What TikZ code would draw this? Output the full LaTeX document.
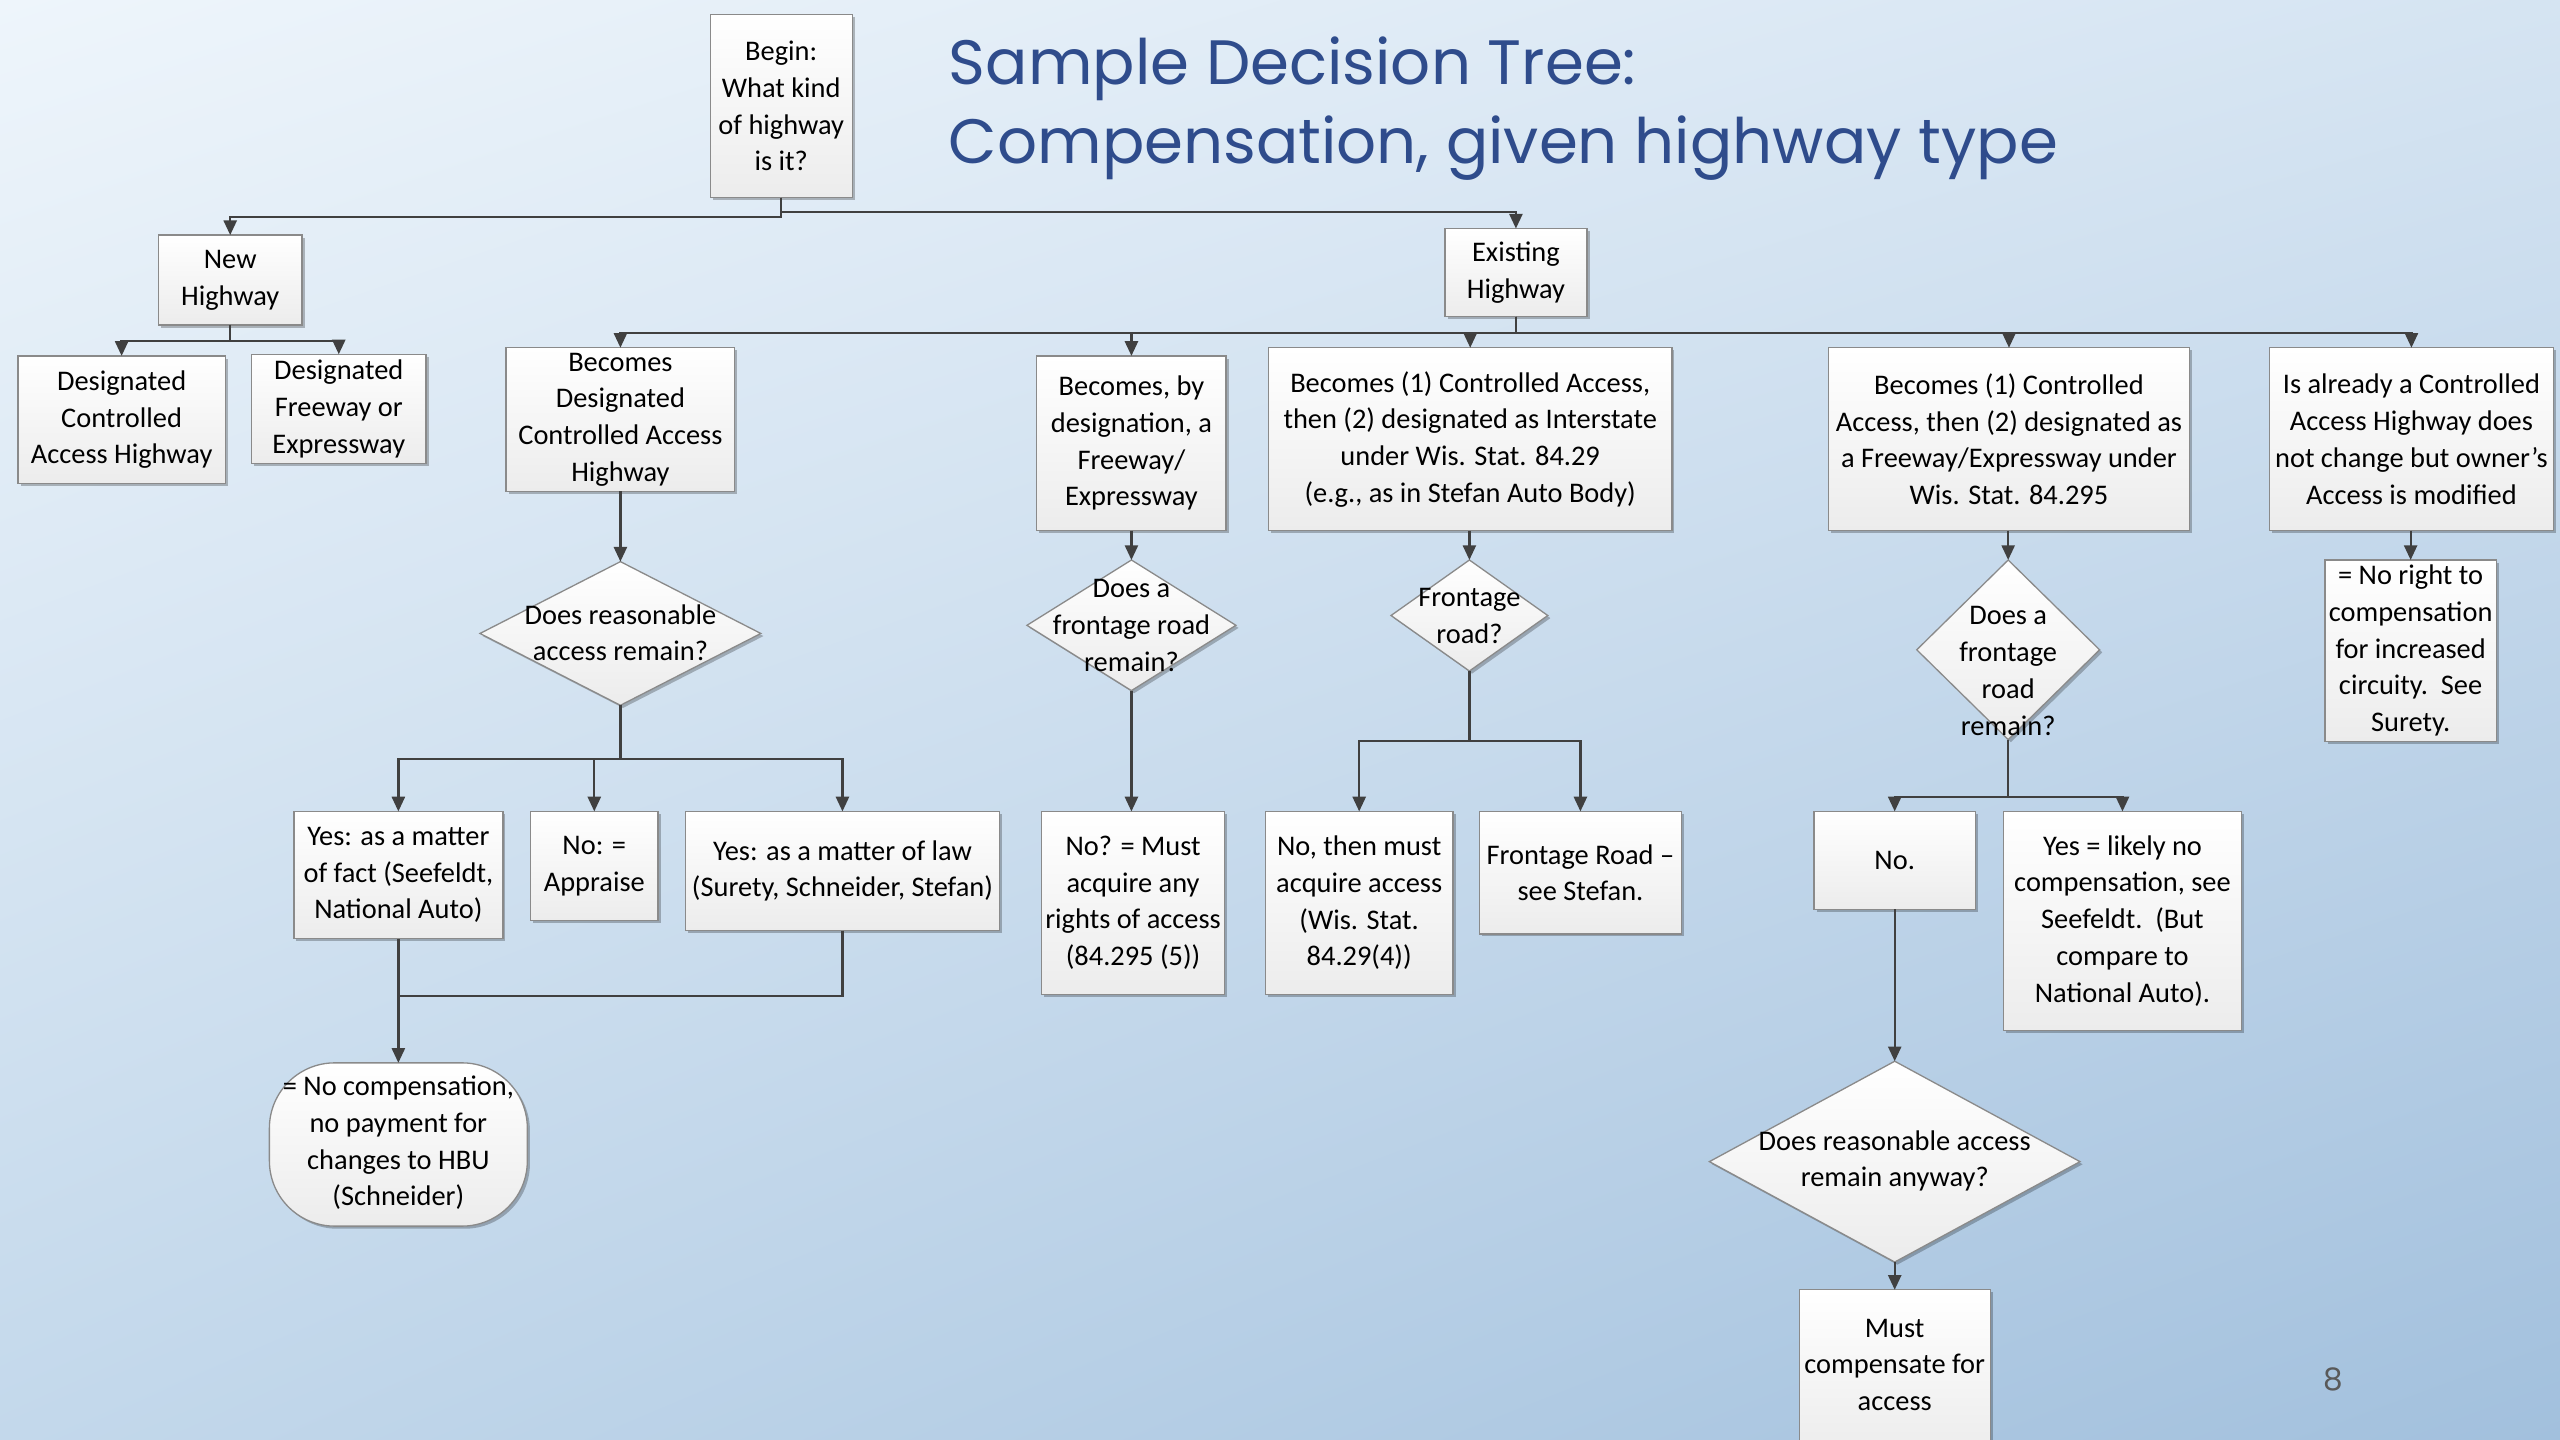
\documentclass[tikz,border=0pt]{standalone}
\usepackage{fontspec}
\setmainfont{Carlito}
\newfontfamily\titlefont{Poppins}
\usetikzlibrary{shapes.geometric,arrows.meta,shadows,shadings,calc}
\definecolor{bgA}{HTML}{EEF5FB}
\definecolor{bgB}{HTML}{D5E4F2}
\definecolor{bgC}{HTML}{C3D8EB}
\definecolor{bgD}{HTML}{A2C0DD}
\definecolor{boxline}{HTML}{8A8A8A}
\definecolor{boxbot}{HTML}{ECECEC}
\definecolor{conn}{HTML}{404040}
\definecolor{titleblue}{HTML}{2F4C8C}
\tikzset{
  bodyfont/.style={font=\fontsize{17.4}{22.5}\selectfont},
  box/.style={draw=boxline, line width=0.8pt, top color=white, bottom color=boxbot,
    drop shadow={shadow xshift=1.6pt, shadow yshift=-1.6pt, opacity=0.25, fill=black},
    inner sep=0pt, outer sep=0pt, align=center, bodyfont, text=black},
  dia/.style={box, diamond},
  txt/.style={inner sep=0pt, outer sep=0pt, align=center, bodyfont, text=black},
  line/.style={draw=conn, line width=1.4pt},
  arr/.style={line, -{Triangle[length=9pt,width=8pt]}},
}
\begin{document}
\begin{tikzpicture}[x=1pt,y=-1pt]
\useasboundingbox (0,0) rectangle (1568,882);
\shade[upper left=bgA, upper right=bgB, lower left=bgC, lower right=bgD] (0,0) rectangle (1568,882);

% title
\node[anchor=base west, inner sep=0pt, text=titleblue, font=\titlefont\fontsize{38.4}{46}\selectfont] (t1) at (581,52) {Sample Decision Tree:};
\node[anchor=base west, inner sep=0pt, text=titleblue, font=\titlefont\fontsize{38.4}{46}\selectfont] (t2) at (581,100) {Compensation, given highway type};
\node[inner sep=0pt, text=gray!70!black, font=\titlefont\fontsize{19}{22}\selectfont] (pg) at (1429,845) {8};

% level 0-1
\node[box, minimum width=87, minimum height=112] (begin) at (478.5,65) {Begin:\\What kind\\of highway\\is it?};
\node[box, minimum width=88, minimum height=55] (new) at (141,171.5) {New\\Highway};
\node[box, minimum width=87, minimum height=54] (exist) at (928.5,167) {Existing\\Highway};

% new highway children
\node[box, minimum width=127, minimum height=78] (dca) at (74.5,257) {Designated\\Controlled\\Access Highway};
\node[box, minimum width=107, minimum height=67] (dfe) at (207.5,250.5) {Designated\\Freeway or\\Expressway};

% existing highway children
\node[box, minimum width=140, minimum height=88] (bdca) at (380,257) {Becomes\\Designated\\Controlled Access\\Highway};
\node[box, minimum width=116, minimum height=107] (bfe) at (693,271.5) {Becomes, by\\designation, a\\Freeway/\\Expressway};
\node[box, minimum width=247, minimum height=112] (bint) at (900.5,269) {Becomes (1) Controlled Access,\\then (2) designated as Interstate\\under Wis. Stat. 84.29\\(e.g., as in Stefan Auto Body)};
\node[box, minimum width=221, minimum height=112] (bfree) at (1230.5,269) {Becomes (1) Controlled\\Access, then (2) designated as\\a Freeway/Expressway under\\Wis. Stat. 84.295};
\node[box, minimum width=174, minimum height=112] (ialr) at (1477,269) {Is already a Controlled\\Access Highway does\\not change but owner’s\\Access is modified};

% decisions
\node[dia, minimum width=172, minimum height=88] (d1) at (380,388) {};
\node[txt] (d1t) at (380,387.5) {Does reasonable\\access remain?};
\node[dia, minimum width=128, minimum height=80] (d2) at (693,383) {};
\node[txt] (d2t) at (693,383) {Does a\\frontage road\\remain?};
\node[dia, minimum width=96, minimum height=68] (d3) at (900,377) {};
\node[txt] (d3t) at (900,377.5) {Frontage\\road?};
\node[dia, minimum width=112, minimum height=110] (d4) at (1230,398) {};
\node[txt] (d4t) at (1230,411) {Does a\\frontage\\road\\remain?};
\node[box, minimum width=105, minimum height=111] (noright) at (1476.5,398.5) {= No right to\\compensation\\for increased\\circuity.\ \ See\\Surety.};

% left subtree
\node[box, minimum width=128, minimum height=78] (yfact) at (244,536) {Yes: as a matter\\of fact (Seefeldt,\\National Auto)};
\node[box, minimum width=78, minimum height=67] (noapp) at (364,530.5) {No: =\\Appraise};
\node[box, minimum width=192, minimum height=73] (ylaw) at (516,533.5) {Yes: as a matter of law\\(Surety, Schneider, Stefan)};
\node[box, rounded corners=40pt, minimum width=158, minimum height=100] (nocomp) at (244,701) {};
\node[txt] (nocompt) at (244,700) {= No compensation,\\no payment for\\changes to HBU\\(Schneider)};

% middle subtrees
\node[box, minimum width=112, minimum height=112] (mustacq) at (694,553) {No? = Must\\acquire any\\rights of access\\(84.295 (5))};
\node[box, minimum width=115, minimum height=112] (nothen) at (832.5,553) {No, then must\\acquire access\\(Wis. Stat.\\84.29(4))};
\node[box, minimum width=124, minimum height=75] (frs) at (968,534.5) {Frontage Road –\\see Stefan.};

% right subtree
\node[box, minimum width=99, minimum height=60] (no) at (1160.5,527) {No.};
\node[box, minimum width=146, minimum height=134] (yes) at (1300,564) {Yes = likely no\\compensation, see\\Seefeldt.\ \ (But\\compare to\\National Auto).};
\node[dia, minimum width=227, minimum height=123] (d5) at (1160.5,711.5) {};
\node[txt] (d5t) at (1160.5,711) {Does reasonable access\\remain anyway?};
\node[box, minimum width=117, minimum height=100] (mustc) at (1160.5,840) {};
\node[txt] (mustct) at (1160.5,836) {Must\\compensate for\\access};

% connectors
\draw[arr] (begin.south) -- ++(0,12) -| (new.north);
\draw[arr] (begin.south) -- ++(0,9) -| (exist.north);
\draw[arr] (new.south) -- ++(0,10) -| (dca.north);
\draw[arr] (new.south) -- ++(0,10) -| (dfe.north);
\draw[arr] (exist.south) -- ++(0,10) -| (bdca.north);
\draw[arr] (exist.south) -- ++(0,10) -| (bfe.north);
\draw[arr] (exist.south) -- ++(0,10) -| (bint.north);
\draw[arr] (exist.south) -- ++(0,10) -| (bfree.north);
\draw[arr] (exist.south) -- ++(0,10) -| (ialr.north);

\draw[arr] (bdca.south) -- (bdca.south |- d1.north);
\draw[arr] (bfe.south) -- (bfe.south |- d2.north);
\draw[arr] (d3.north |- bint.south) -- (d3.north);
\draw[arr] (d4.north |- bfree.south) -- (d4.north);
\draw[arr] (noright.north |- ialr.south) -- (noright.north);

\draw[arr] (d1.south) -- ++(0,33) -| (yfact.north);
\draw[arr] (d1.south) -- ++(0,33) -| (noapp.north);
\draw[arr] (d1.south) -- ++(0,33) -| (ylaw.north);
\draw[arr] (yfact.south) -- (nocomp.north);
\draw[line] (ylaw.south) |- (yfact.south |- 0,610);

\draw[arr] (d2.south) -- (d2.south |- mustacq.north);
\draw[arr] (d3.south) -- ++(0,43) -| (nothen.north);
\draw[arr] (d3.south) -- ++(0,43) -| (frs.north);

\draw[arr] (d4.south) -- ++(0,35) -| (no.north);
\draw[arr] (d4.south) -- ++(0,35) -| (yes.north);
\draw[arr] (no.south) -- (no.south |- d5.north);
\draw[arr] (d5.south) -- (d5.south |- mustc.north);
\end{tikzpicture}
\end{document}
